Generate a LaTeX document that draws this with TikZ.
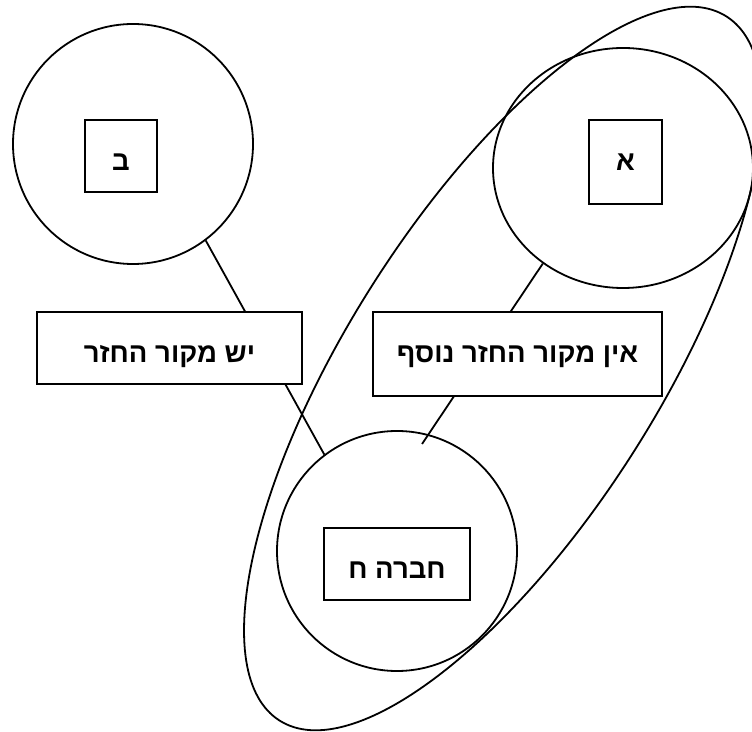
\documentclass[tikz,border=0pt]{standalone}
\usepackage{fontspec}
\newfontfamily\hebfont[Script=Hebrew, BoldFont={Liberation Sans Bold}]{Liberation Sans}
\TeXXeTstate=1
\usetikzlibrary{shapes.geometric}

\begin{document}
\begin{tikzpicture}[x=1pt, y=1pt, line width=1.8pt,
      group/.style={circle, draw, minimum size=240pt, inner sep=0pt},
      hebbox/.style={rectangle, draw, fill=white, inner sep=0pt, text height=30pt, text depth=0pt,
                     font=\hebfont\bfseries\fontsize{27.5}{32}\selectfont},
      tallbox/.style={hebbox, text depth=12pt, minimum height=84pt}]

      \useasboundingbox (0,0) rectangle (752,731);

      % Draw the big tilted ellipse
      \draw[rotate around={57.6:(503,362.5)}] (503,362.5) ellipse [x radius=417, y radius=155];

      % Draw the circles
      \node[group] (circB) at (133,587) {};
      \node[group, ellipse, minimum width=260pt, minimum height=240pt] (circA) at (623,563) {};
      \node[group] (circH) at (397,180) {};

      % Connect the circles
      \coordinate (hEnd) at (422,287);
      \draw (circB.-53) -- (circH.127);
      \draw (circA.230) -- (hEnd);

      % Boxes with the labels
      \node[hebbox, minimum width=72pt, minimum height=72pt] (boxB) at (121,575) {\beginR ב\endR};
      \node[tallbox, minimum width=73pt] (boxA) at (625.5,569) {\beginR א\endR};
      \node[hebbox, minimum width=265pt, minimum height=72pt] (boxYes) at (169.5,383) {\beginR יש מקור החזר\endR};
      \node[tallbox, minimum width=289pt] (boxNo) at (517.5,377) {\beginR אין מקור החזר נוסף\endR};
      \node[hebbox, minimum width=146pt, minimum height=72pt] (boxH) at (397,167) {\beginR חברה ח\endR};
   \end{tikzpicture}
\end{document}
